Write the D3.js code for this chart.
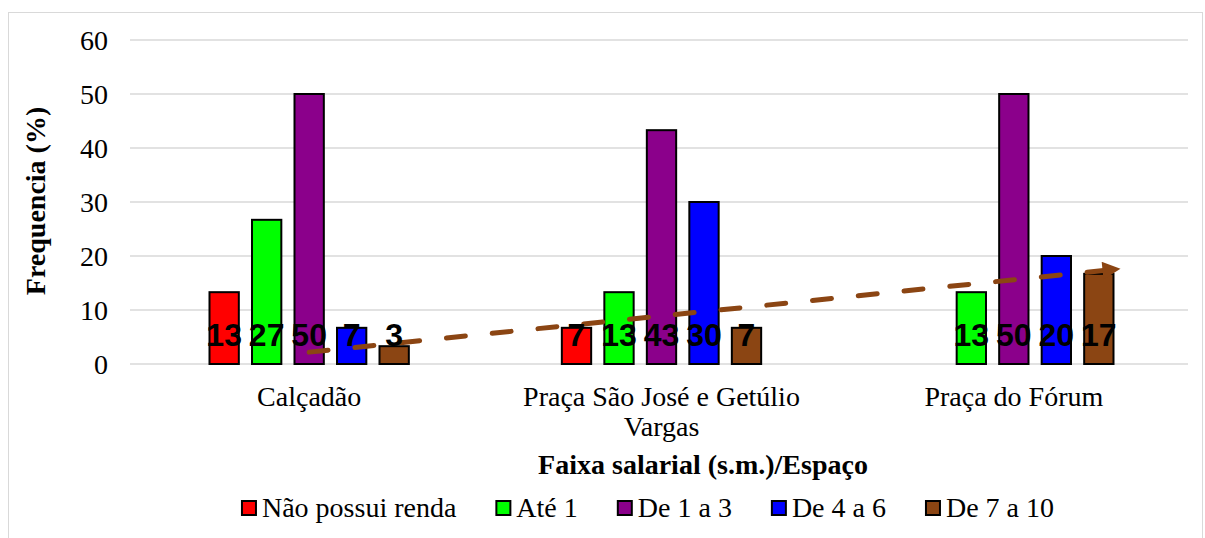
<!DOCTYPE html>
<html><head><meta charset="utf-8">
<script src="https://cdn.jsdelivr.net/npm/d3@7"></script>
<style>body{margin:0;background:#fff}svg{display:block}</style>
</head><body>
<svg id="c" width="1205" height="538"></svg>
<script>
const categories = ["Calçadão", "Praça São José e Getúlio Vargas", "Praça do Fórum"];
const categoryLines = [["Calçadão"], ["Praça São José e Getúlio", "Vargas"], ["Praça do Fórum"]];
const seriesNames = ["Não possui renda", "Até 1", "De 1 a 3", "De 4 a 6", "De 7 a 10"];
const seriesColors = ["#FF0000", "#00FF00", "#8B008B", "#0000FF", "#8B4513"];
const naoPossuiRenda = [13.3, 6.7, null];
const ate1 = [26.7, 13.3, 13.3];
const de1a3 = [50, 43.3, 50];
const de4a6 = [6.7, 30, 20];
const de7a10 = [3.3, 6.7, 16.7];
const seriesValues = [naoPossuiRenda, ate1, de1a3, de4a6, de7a10];
const yTicks = [0, 10, 20, 30, 40, 50, 60];
const trendForward = 0.3;

const SERIF = "Liberation Serif";
const SANS = "Liberation Sans";
const FS = 28;
const svg = d3.select("#c");

svg.append("rect").attr("x", 8.5).attr("y", 12.5).attr("width", 1194).attr("height", 540)
  .attr("fill", "none").attr("stroke", "#d9d9d9").attr("stroke-width", 1);

const L = 133, R = 1190, T = 40, B = 364;
const y = d3.scaleLinear().domain([0, 60]).range([B, T]);
const x0 = d3.scaleBand().domain(categories).range([L, R]).padding(0);
const x1 = d3.scaleBand().domain(seriesNames).range([0, x0.bandwidth()]).paddingInner(0.31).paddingOuter(1.8);

// gridlines
svg.append("g").selectAll("line").data(yTicks).join("line")
  .attr("x1", 130).attr("x2", 1188).attr("y1", d => y(d)).attr("y2", d => y(d))
  .attr("stroke", "#d9d9d9").attr("stroke-width", 1.5);

// y axis labels
const yAxis = d3.axisLeft(y).tickValues(yTicks).tickSize(0).tickPadding(0);
const ga = svg.append("g").attr("transform", "translate(108,0)").call(yAxis);
ga.select(".domain").remove();
ga.attr("font-family", SERIF).attr("font-size", FS);
ga.selectAll("text").attr("fill", "#000").attr("dy", "0.33em");

// bars
seriesNames.forEach((s, si) => {
  const data = categories.map((c, ci) => ({c, v: seriesValues[si][ci]})).filter(d => d.v != null);
  svg.append("g").selectAll("rect").data(data).join("rect")
    .attr("x", d => x0(d.c) + x1(s))
    .attr("y", d => y(d.v))
    .attr("width", x1.bandwidth())
    .attr("height", d => y(0) - y(d.v))
    .attr("fill", seriesColors[si])
    .attr("stroke", "#000").attr("stroke-width", 2);
});

// trendline for De 7 a 10
const xs = [1, 2, 3], ys = de7a10;
const mx = d3.mean(xs), my = d3.mean(ys);
const slope = d3.sum(xs.map((xv, i) => (xv - mx) * (ys[i] - my))) / d3.sum(xs.map(xv => (xv - mx) ** 2));
const icpt = my - slope * mx;
const xIdx = d3.scaleLinear().domain([1, 2]).range([x0(categories[0]) + x0.bandwidth() / 2, x0(categories[1]) + x0.bandwidth() / 2]);
const tEnd = 3 + trendForward;
const defs = svg.append("defs");
defs.append("marker").attr("id", "arr").attr("viewBox", "0 0 10 10").attr("refX", 5).attr("refY", 5)
  .attr("markerWidth", 4.4).attr("markerHeight", 3.6).attr("orient", "auto").attr("markerUnits", "strokeWidth")
  .append("path").attr("d", "M0,0 L10,5 L0,10 Z").attr("fill", "#8B4513");
const tx2 = xIdx(tEnd) - 8;
svg.append("line")
  .attr("x1", xIdx(1)).attr("y1", y(icpt + slope * 1))
  .attr("x2", tx2).attr("y2", y(icpt + slope * xIdx.invert(tx2)))
  .attr("stroke", "#8B4513").attr("stroke-width", 5)
  .attr("stroke-dasharray", "19,27").attr("stroke-linecap", "round")
  .attr("marker-end", "url(#arr)");

// data labels
seriesNames.forEach((s, si) => {
  const data = categories.map((c, ci) => ({c, v: seriesValues[si][ci]})).filter(d => d.v != null);
  svg.append("g").selectAll("text").data(data).join("text")
    .attr("x", d => x0(d.c) + x1(s) + x1.bandwidth() / 2)
    .attr("y", y(0) - 18)
    .attr("text-anchor", "middle")
    .attr("font-family", SANS).attr("font-weight", "bold").attr("font-size", 32)
    .attr("fill", "#000")
    .text(d => Math.round(d.v));
});

// category labels
categories.forEach((c, ci) => {
  const t = svg.append("text").attr("text-anchor", "middle")
    .attr("font-family", SERIF).attr("font-size", FS).attr("fill", "#000");
  categoryLines[ci].forEach((ln, li) => {
    t.append("tspan").attr("x", x0(c) + x0.bandwidth() / 2).attr("y", 406 + li * 30).text(ln);
  });
});

// axis titles
svg.append("text").attr("x", 703).attr("y", 474).attr("text-anchor", "middle")
  .attr("font-family", SERIF).attr("font-weight", "bold").attr("font-size", FS).text("Faixa salarial (s.m.)/Espaço");
svg.append("text").attr("transform", "translate(45,201) rotate(-90)").attr("text-anchor", "middle")
  .attr("font-family", SERIF).attr("font-weight", "bold").attr("font-size", FS).text("Frequencia (%)");

// legend
const lg = svg.append("g");
let cx = 0;
const GAP = 40;
seriesNames.forEach((s, si) => {
  const g = lg.append("g").attr("transform", `translate(${cx},0)`);
  g.append("rect").attr("x", 0).attr("y", 501).attr("width", 14).attr("height", 14)
    .attr("fill", seriesColors[si]).attr("stroke", "#000").attr("stroke-width", 2);
  const t = g.append("text").attr("x", 20).attr("y", 517)
    .attr("font-family", SERIF).attr("font-size", FS).text(s);
  cx += 20 + t.node().getComputedTextLength() + GAP;
});
const total = cx - GAP;
lg.attr("transform", `translate(${648 - total / 2},0)`);
</script>
</body></html>
